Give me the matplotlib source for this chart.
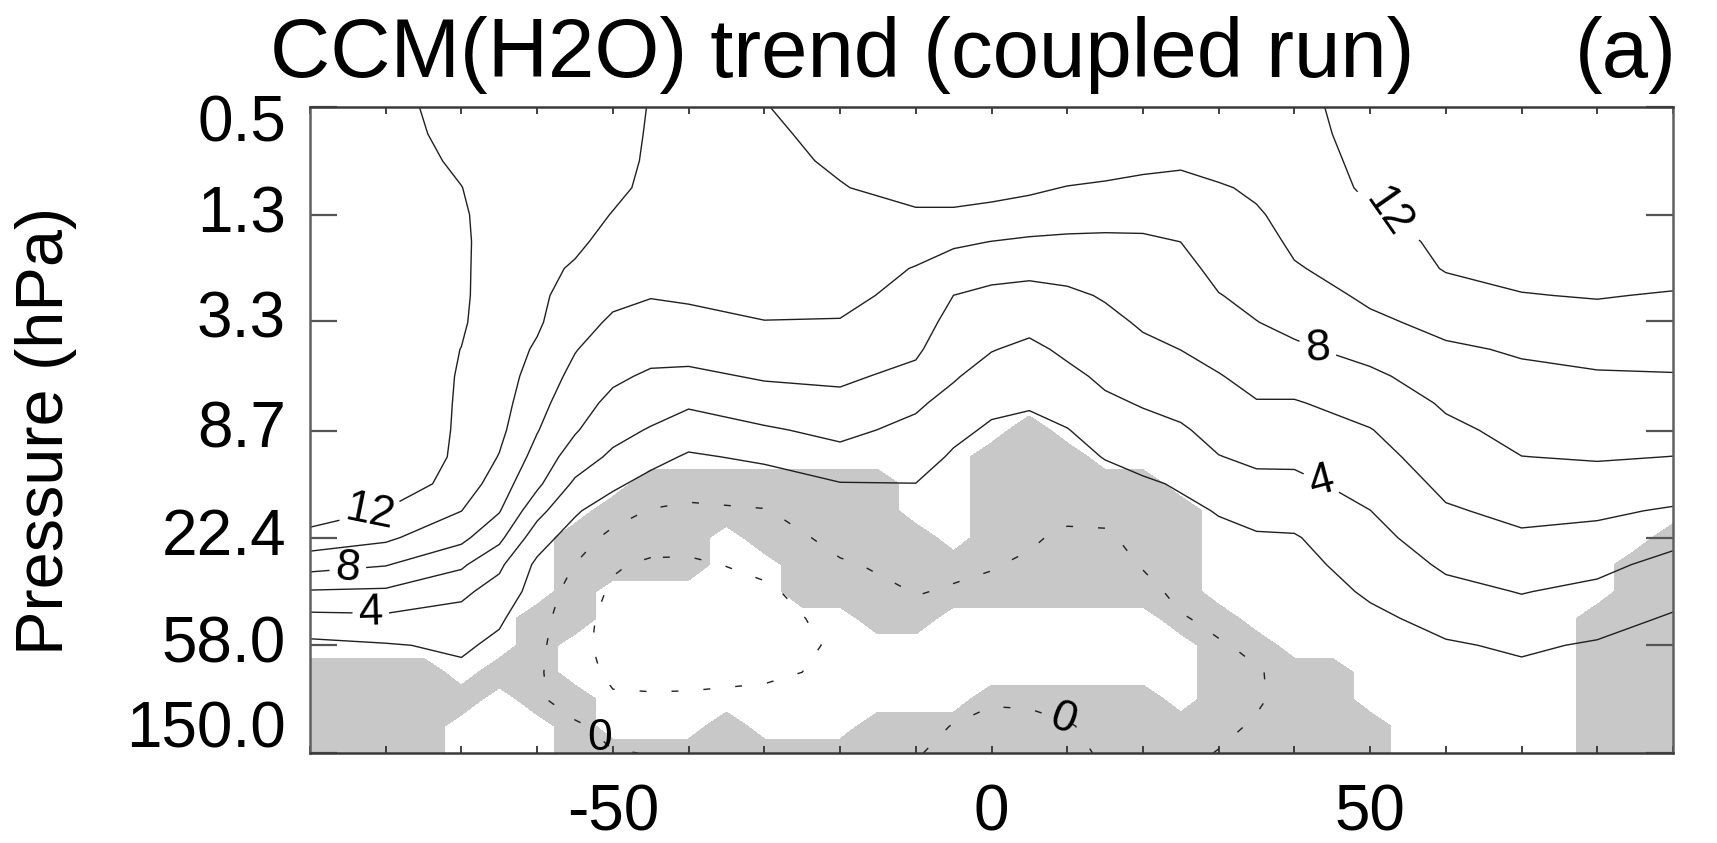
import numpy as np
import matplotlib
matplotlib.use("Agg")
import matplotlib.pyplot as plt
import matplotlib.transforms as mtransforms
from matplotlib.ticker import NullLocator

plt.rcParams['font.family'] = ['Liberation Sans', 'DejaVu Sans']
plt.rcParams['lines.scale_dashes'] = False

# ---------------- data ----------------
latitudes = [-90, -80, -70, -65, -60, -55, -50, -45, -40, -30, -20, -10, -5, 0, 5, 10, 15, 20, 25, 30,
             35, 40, 50, 60, 70, 80, 90]
pressure_levels = [0.5, 0.634, 0.804, 1.020, 1.294, 1.641, 2.081, 2.640, 3.348, 4.246, 5.385,
                   6.830, 8.660, 10.98, 13.93, 17.67, 22.41, 28.42, 36.04, 45.71, 57.97,
                   73.53, 93.25, 118.3, 150.0]

# trend values (top -> bottom) for each latitude column
trend_by_lat = [
    [13.8, 13.8, 13.7, 13.7, 13.6, 13.6, 13.5, 13.5, 13.4, 13.4, 13.3, 13.3, 13.3, 13.3, 13.3, 13.2, 11.14, 8.72, 5.83, 3.38, 1.5, 1.2, 1.0, 0.9, 0.8],
    [12.4, 12.5, 12.6, 12.8, 12.9, 12.9, 12.9, 12.95, 13.0, 13.0, 13.0, 13.1, 13.2, 13.3, 13.3, 11.84, 10.35, 8.11, 5.68, 3.57, 1.85, 1.3, 1.1, 0.9, 0.8],
    [11.5, 11.6, 11.8, 12.02, 12.15, 12.2, 12.2, 12.2, 12.15, 11.98, 11.9, 11.85, 11.8, 11.7, 11.2, 10.02, 8.48, 6.31, 4.41, 3.25, 2.29, 1.6, 1.2, 0.9, 0.7],
    [11.25, 11.3, 11.35, 11.4, 11.45, 11.45, 11.4, 11.35, 11.25, 11.1, 10.95, 10.75, 10.45, 9.9, 8.98, 8.12, 6.48, 4.37, 3.2, 2.24, 1.6, 1.1, 0.8, 0.6, 0.5],
    [11.0, 11.0, 10.95, 10.9, 10.8, 10.7, 10.55, 10.4, 10.27, 9.73, 9.19, 8.65, 8.10, 7.28, 6.39, 4.63, 2.86, 1.6, 1.2, 0.8, 0.5, 0.3, 0.3, 0.6, 0.6],
    [10.75, 10.75, 10.7, 10.65, 10.5, 10.35, 9.78, 9.22, 8.65, 8.09, 7.46, 6.82, 6.18, 5.03, 3.65, 2.25, 1.08, -0.05, -0.8, -1.3, -1.5, -1.4, -0.9, 0.3, 0.45],
    [10.4, 10.4, 10.35, 10.25, 9.95, 9.42, 8.89, 8.35, 7.75, 7.04, 6.32, 5.51, 4.62, 3.63, 2.40, 0.85, -0.6, -1.8, -2.3, -2.6, -2.6, -2.3, -1.8, -0.6, 0.1],
    [9.95, 9.9, 9.85, 9.75, 9.55, 9.2, 8.65, 8.08, 7.33, 6.56, 5.74, 4.81, 3.85, 2.63, 1.29, -0.12, -1.24, -2.3, -2.8, -3.1, -3.1, -2.7, -1.7, -0.7, -0.05],
    [9.4, 9.4, 9.35, 9.3, 9.2, 9.0, 8.7, 8.25, 7.41, 6.59, 5.62, 4.26, 2.97, 1.76, 0.69, -0.36, -1.36, -2.3, -2.9, -3.3, -3.3, -2.8, -1.6, -0.8, -0.2],
    [9.95, 9.7, 9.5, 9.35, 9.2, 9.05, 8.8, 8.5, 7.95, 7.06, 6.19, 5.03, 3.76, 2.32, 1.05, -0.11, -0.87, -1.6, -2.3, -2.6, -2.6, -2.2, -1.7, -1.3, -1.0],
    [10.6, 10.5, 10.25, 9.9, 9.65, 9.35, 9.0, 8.55, 7.89, 7.11, 6.33, 5.45, 4.5, 3.30, 1.91, 1.22, 0.53, -0.2, -0.9, -1.5, -1.8, -1.8, -1.5, -1.2, -0.9],
    [11.1, 11.0, 10.9, 10.66, 9.72, 8.77, 7.90, 7.37, 6.84, 6.30, 5.49, 4.31, 3.46, 2.73, 1.98, 1.52, 1.03, 0.55, 0.07, -0.4, -0.7, -0.8, -0.7, -0.4, -0.05],
    [11.2, 11.15, 11.05, 10.92, 9.61, 8.28, 7.11, 5.99, 5.39, 4.79, 4.18, 3.33, 2.38, 1.78, 1.4, 1.01, 0.63, 0.25, -0.12, -0.5, -0.75, -0.75, -0.5, 0.05, 0.2],
    [11.3, 11.2, 11.0, 10.66, 9.34, 7.98, 6.6, 5.57, 4.83, 4.08, 3.21, 2.31, 1.78, 1.44, 1.10, 0.76, 0.42, 0.08, -0.3, -0.6, -0.75, -0.6, -0.1, 0.3, 0.4],
    [11.45, 11.3, 11.05, 10.33, 9.04, 7.74, 6.45, 5.39, 4.46, 3.62, 2.87, 2.11, 1.68, 1.3, 0.92, 0.54, 0.17, -0.2, -0.5, -0.75, -0.85, -0.7, -0.15, 0.3, 0.4],
    [11.6, 11.4, 11.0, 9.92, 8.78, 7.65, 6.56, 5.67, 5.0, 4.32, 3.57, 2.73, 1.93, 1.39, 0.84, 0.30, -0.25, -0.6, -0.85, -1.0, -1.0, -0.8, -0.4, 0.1, 0.3],
    [11.55, 11.2, 10.8, 9.70, 8.61, 7.66, 6.91, 6.15, 5.53, 4.93, 4.34, 3.66, 2.87, 2.08, 1.29, 0.49, -0.3, -0.6, -0.8, -0.9, -0.95, -0.85, -0.6, -0.35, -0.15],
    [11.5, 11.0, 10.47, 9.49, 8.51, 7.75, 7.24, 6.73, 6.22, 5.58, 4.86, 4.14, 3.32, 2.49, 1.77, 1.21, 0.65, 0.09, -0.4, -0.7, -0.85, -0.85, -0.75, -0.65, -0.55],
    [11.3, 10.8, 10.24, 9.49, 8.75, 8.01, 7.51, 7.01, 6.52, 6.02, 5.28, 4.53, 3.77, 2.97, 2.16, 1.65, 1.21, 0.77, 0.33, -0.1, -0.4, -0.55, -0.55, -0.45, -0.3],
    [11.3, 11.0, 10.6, 9.83, 9.37, 8.9, 8.43, 7.94, 7.26, 6.58, 5.9, 5.25, 4.61, 3.94, 3.02, 2.09, 1.61, 1.17, 0.74, 0.3, -0.12, -0.35, -0.4, -0.25, 0.05],
    [11.4, 11.05, 10.7, 10.26, 9.81, 9.35, 8.89, 8.43, 7.96, 7.27, 6.59, 5.89, 5.13, 4.36, 3.49, 2.52, 1.82, 1.43, 1.04, 0.65, 0.26, -0.1, -0.12, 0.12, 0.25],
    [11.6, 11.4, 11.1, 10.9, 10.6, 10.3, 9.85, 9.15, 8.46, 7.69, 6.76, 5.86, 5.11, 4.35, 3.55, 2.70, 1.85, 1.4, 1.0, 0.7, 0.5, 0.4, 0.35, 0.3, 0.3],
    [12.6, 12.6, 12.5, 12.3, 11.78, 11.29, 10.81, 10.32, 9.63, 8.6, 7.62, 6.76, 5.92, 5.28, 4.63, 3.98, 3.40, 2.82, 2.25, 1.6, 1.2, 0.9, 0.7, 0.6, 0.5],
    [13.0, 12.9, 12.8, 12.7, 12.55, 12.35, 12.11, 11.31, 10.51, 9.72, 8.98, 8.23, 7.6, 7.01, 6.43, 5.79, 5.04, 4.28, 3.46, 2.60, 1.8, 1.3, 1.0, 0.8, 0.7],
    [13.3, 13.2, 13.1, 13.0, 12.85, 12.7, 12.45, 11.93, 11.07, 10.2, 9.59, 9.06, 8.52, 7.98, 7.23, 6.47, 5.70, 4.89, 4.08, 3.19, 2.27, 1.6, 1.2, 1.0, 0.9],
    [13.4, 13.3, 13.2, 13.1, 12.95, 12.8, 12.55, 12.1, 11.31, 10.53, 9.82, 9.26, 8.69, 8.13, 7.27, 6.32, 5.38, 4.46, 3.55, 2.68, 1.8, 1.4, 1.2, 1.1, 1.0],
    [13.5, 13.4, 13.3, 13.2, 13.05, 12.9, 12.6, 11.86, 11.2, 10.55, 9.9, 9.26, 8.62, 7.98, 6.91, 5.8, 4.47, 3.44, 2.58, 1.8, 1.5, 1.3, 1.2, 1.1, 1.0],
]

# significance mask ('#' = significant), 5-degree columns, same pressure rows
mask_latitudes = [-90, -85, -80, -75, -70, -65, -60, -55, -50, -45, -40, -35, -30, -25, -20, -15, -10, -5,
                  0, 5, 10, 15, 20, 25, 30, 35, 40, 45, 50, 55, 60, 65, 70, 75, 80, 85, 90]
significance_rows = [
    ".....................................",
    ".....................................",
    ".....................................",
    ".....................................",
    ".....................................",
    ".....................................",
    ".....................................",
    ".....................................",
    ".....................................",
    ".....................................",
    ".....................................",
    ".....................................",
    "...................#.................",
    "..................###................",
    ".........#######..#####..............",
    "........########..######.............",
    ".......####.#####.######............#",
    ".......####..###########...........##",
    ".......#.....###########...........##",
    "......##.......##......##.........###",
    "......#.................##........###",
    "####.##.................####......###",
    "#####.##..........#####.####......###",
    "####...#...#...##############.....###",
    "####...######################.....###",
]

unlabeled_levels = [-2, 2, 6, 10]
labeled_levels = [0, 4, 8, 12]
label_positions = [(-82.0, 19.1), (-85.0, 29.6), (-82.0, 45.7), (52.4, 1.55),
                   (43.1, 4.2), (43.6, 13.6), (-48.0, 130.0), (11.5, 109.0)]
label_rotations = {3: -55, 6: 0, 7: -20}

ytick_values = [0.5, 1.3, 3.3, 8.7, 22.4, 58.0, 150.0]
ytick_labels = ["0.5", "1.3", "3.3", "8.7", "22.4", "58.0", "150.0"]
xtick_major = [-50, 0, 50]
xtick_labels = ["-50", "0", "50"]
xtick_minor = [-90, -80, -70, -60, -50, -40, -30, -20, -10, 0, 10, 20, 30, 40, 50, 60, 70, 80, 90]

title_text = "CCM(H2O) trend (coupled run)"
panel_text = "(a)"
ylabel_text = "Pressure (hPa)"

# ---------------- figure ----------------
W, H, DPI = 1717, 843, 100
fig = plt.figure(figsize=(W / DPI, H / DPI), dpi=DPI)
ax = fig.add_axes([310 / W, (H - 753) / H, 1363 / W, 646 / H])

Z = np.array(trend_by_lat).T
M = np.array([[1.0 if c == '#' else 0.0 for c in row] for row in significance_rows])

ax.contourf(mask_latitudes, pressure_levels, M, levels=[0.45, 2.0], colors=['#c8c8c8'], zorder=1)

dash = (0, (5, 18))
def styles_for(levels):
    return [dash if lv <= 0 else 'solid' for lv in levels]

cs_u = ax.contour(latitudes, pressure_levels, Z, levels=unlabeled_levels, colors='#202020',
                  linewidths=1.0, linestyles=styles_for(unlabeled_levels), zorder=2)
cs_l = ax.contour(latitudes, pressure_levels, Z, levels=labeled_levels, colors='#202020',
                  linewidths=1.0, linestyles=styles_for(labeled_levels), zorder=2)
texts = cs_l.clabel(manual=label_positions, inline=True, fmt='%d',
                    fontsize=32, colors='black', inline_spacing=6)
for idx, rot in label_rotations.items():
    if idx < len(texts):
        texts[idx].set_rotation(rot)

ax.set_yscale('log')
ax.set_ylim(150, 0.5)
ax.set_xlim(-90, 90)
ax.set_yticks(ytick_values)
ax.set_yticklabels([])
ax.yaxis.set_minor_locator(NullLocator())
ax.set_xticks(xtick_major)
ax.set_xticklabels(xtick_labels, fontsize=46)
ax.set_xticks(xtick_minor, minor=True)

ax.tick_params(axis='x', which='both', direction='in', top=True, bottom=True,
               length=5, width=1.3, color='#333333', pad=22)
ax.tick_params(axis='y', which='major', direction='in', left=True, right=True,
               length=19.5, width=1.6, color='#555555')
for sp in ax.spines.values():
    sp.set_linewidth(1.8)
    sp.set_color('#3a3a3a')
ax.spines['left'].set_color('#606060')
ax.spines['right'].set_color('#606060')

blend = mtransforms.blended_transform_factory(ax.transAxes, ax.transData)
for i, (val, lab) in enumerate(zip(ytick_values, ytick_labels)):
    dy = 0.0
    if i == 0:
        dy = -17.5
    elif i == len(ytick_values) - 1:
        dy = 22.0
    tr = blend + mtransforms.ScaledTranslation(-24 / DPI, dy / DPI, fig.dpi_scale_trans)
    ax.text(0, val, lab, transform=tr, ha='right', va='center', fontsize=46)

fig.text(46 / W, 1 - 431 / H, ylabel_text, rotation=90, ha='center', va='center', fontsize=48)
fig.text(270 / W, 1 - 77 / H, title_text, ha='left', va='baseline', fontsize=60)
fig.text(1677 / W, 1 - 77 / H, panel_text, ha='right', va='baseline', fontsize=60)

fig.savefig("out.png", dpi=DPI)
